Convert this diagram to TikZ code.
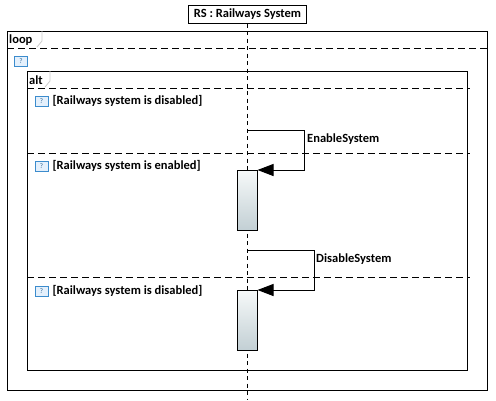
\documentclass[tikz,border=0pt]{standalone}
\usepackage{fontspec}
\setmainfont{Carlito}
\usepackage{tikz}
\usetikzlibrary{arrows.meta,positioning,calc}
\definecolor{tabgray}{RGB}{205,205,205}
\definecolor{iconblue}{RGB}{60,140,205}
\definecolor{iconfill}{RGB}{228,240,252}
\definecolor{acttop}{RGB}{246,249,249}
\definecolor{actbot}{RGB}{194,207,212}

\begin{document}
\begin{tikzpicture}[x=1pt,y=-1pt,font=\fontsize{12.5}{14}\selectfont\bfseries,
    framebox/.style={draw,line width=1pt},
    sepline/.style={line width=1pt,dash pattern=on 7pt off 4pt},
    lifeline/.style={line width=1pt,dash pattern=on 4pt off 3.5pt},
    tabline/.style={draw=tabgray,line width=0.8pt,line join=miter},
    guardicon/.style={draw=iconblue,fill=iconfill,line width=0.8pt,
      minimum width=13pt,minimum height=10pt,inner sep=0pt,
      font=\fontsize{7}{7}\selectfont,text=iconblue!70!black},
    guardtext/.style={inner sep=0pt,anchor=west},
    activation/.style={draw,line width=1pt,top color=acttop,bottom color=actbot,
      minimum width=20pt,minimum height=60pt,inner sep=0pt,anchor=north},
    selfmsg/.style={line width=1pt,-{Triangle[length=16pt,width=12pt]}},
    msglabel/.style={inner sep=0pt,anchor=west}]

  \useasboundingbox[fill=white] (0,0) rectangle (496,400);

  %,  Lifeline head and its dashed line, 
  \node[draw,line width=1pt,minimum width=118pt,minimum height=18pt,inner sep=1pt]
    (rs) at (247.5,14) {RS : Railways System};
  \coordinate (lifeend) at (247.5,400);
  \draw[lifeline] (rs.south) -- (lifeend);

  %,  Loop frame, 
  \draw[framebox] (7,31) rectangle (487,390);
  \node[inner sep=0pt,anchor=west] (looplbl) at (9,40) {loop};
  \draw[tabline] (42,31) -- (42,41) -- (37,47);
  \draw[sepline] (7,48) -- (490,48);
  \node[guardicon] (loopicon) at (21,61) {?};

  %,  Alt frame with its operands, 
  \draw[framebox] (27,71) rectangle (467,370);
  \node[inner sep=0pt,anchor=west] (altlbl) at (29,80) {alt};
  \draw[tabline] (50,71) -- (50,81) -- (45,87);
  \foreach \y in {88,153,277}
    \draw[sepline] (27,\y) -- (470,\y);

  \foreach \i/\y/\txt in {1/101/{[Railways system is disabled]},
                          2/166/{[Railways system is enabled]},
                          3/291/{[Railways system is disabled]}}
  {
    \node[guardicon] (gicon\i) at (41.5,\y) {?};
    \node[guardtext,right=4pt of gicon\i] (gtext\i) {\txt};
  }

  %,  Activations and self messages, 
  \node[activation] (act1) at (247,170) {};
  \node[activation] (act2) at (247,290) {};

  \coordinate (m1start) at (247.5,130);
  \coordinate (m1turn) at (304,130);
  \draw[selfmsg] (m1start) -- (m1turn) |- (act1.north east);
  \node[msglabel] (m1lbl) at (307,139) {EnableSystem};

  \coordinate (m2start) at (247.5,250);
  \coordinate (m2turn) at (314,250);
  \draw[selfmsg] (m2start) -- (m2turn) |- (act2.north east);
  \node[msglabel] (m2lbl) at (316,259) {DisableSystem};

\end{tikzpicture}
\end{document}
